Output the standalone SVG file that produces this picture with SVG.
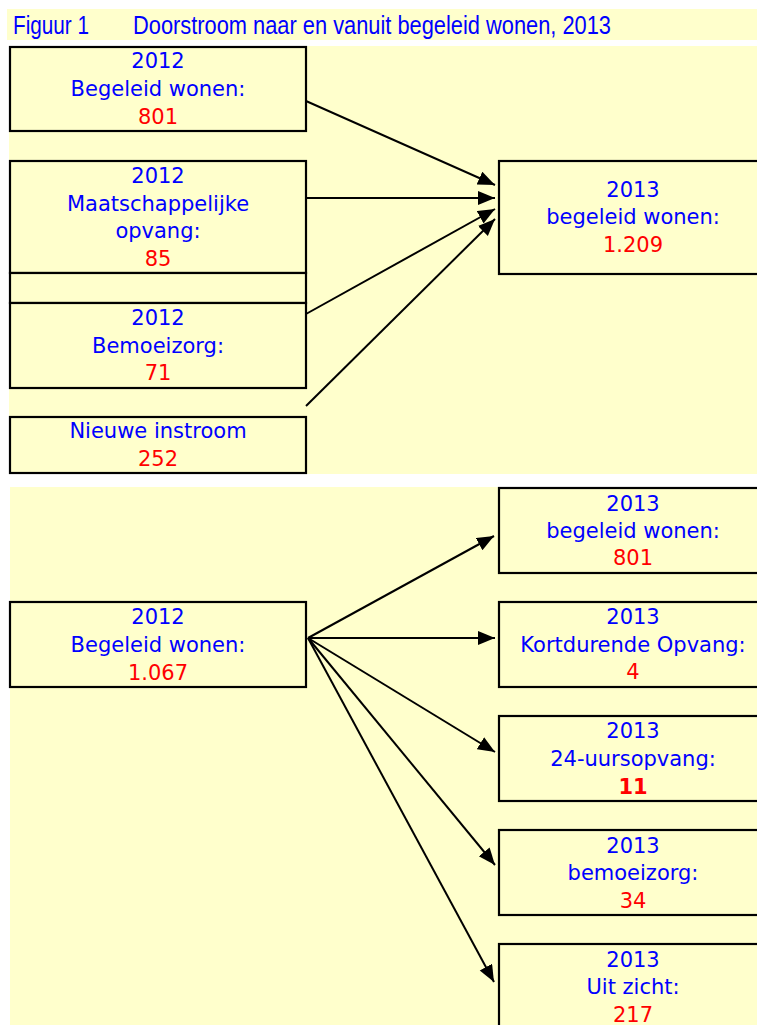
<svg xmlns="http://www.w3.org/2000/svg" width="757" height="1025" viewBox="0 0 757 1025">
<style>
.bg{fill:#FFFFCC}
.box{fill:#FFFFCC;stroke:#000;stroke-width:2.2}
.t{font-family:"DejaVu Sans",Verdana,sans-serif;font-size:21px;text-anchor:middle;fill:#0000FF}
.n{fill:#FF0000}
.b{font-weight:bold}
.title{font-family:"Liberation Sans",Arial,sans-serif;font-size:25px;fill:#0000FF}
.c{stroke:#000;stroke-width:2;fill:none;marker-end:url(#ah)}
</style>
<defs>
<marker id="ah" markerUnits="userSpaceOnUse" markerWidth="18" markerHeight="15" refX="17" refY="7" orient="auto">
<path d="M0,0 L17,7 L0,14 z" fill="#000"/>
</marker>
</defs>
<rect width="757" height="1025" fill="#fff"/>
<rect class="bg" x="7" y="9" width="750" height="31"/>
<rect class="bg" x="9" y="46" width="748" height="428"/>
<rect class="bg" x="10" y="487" width="747" height="538"/>
<g id="title">
<text class="title" x="13" y="34" textLength="76" lengthAdjust="spacingAndGlyphs">Figuur 1</text>
<text class="title" x="133" y="34" textLength="478" lengthAdjust="spacingAndGlyphs">Doorstroom naar en vanuit begeleid wonen, 2013</text>
</g>
<g id="connectors">
<line class="c" x1="306" y1="101" x2="495" y2="185"/>
<line class="c" x1="306" y1="198" x2="495" y2="198"/>
<line class="c" x1="306" y1="314" x2="495" y2="209"/>
<line class="c" x1="306" y1="406" x2="495" y2="219"/>
<line class="c" x1="308" y1="638" x2="494" y2="536"/>
<line class="c" x1="308" y1="638" x2="495" y2="638"/>
<line class="c" x1="308" y1="638" x2="495" y2="752"/>
<line class="c" x1="308" y1="638" x2="495" y2="865"/>
<line class="c" x1="308" y1="638" x2="494" y2="982"/>
</g>
<g id="src-bw2012">
<rect class="box" x="10" y="47" width="296" height="84"/>
<text class="t" x="158" y="68">2012</text>
<text class="t" x="158" y="96">Begeleid wonen:</text>
<text class="t n" x="158" y="124">801</text>
</g>
<g id="src-mo2012">
<rect class="box" x="10" y="161" width="296" height="112"/>
<text class="t" x="158" y="183">2012</text>
<text class="t" x="158" y="211">Maatschappelijke</text>
<text class="t" x="158" y="238">opvang:</text>
<text class="t n" x="158" y="266">85</text>
</g>
<g id="spacer">
<rect class="box" x="10" y="273" width="296" height="30"/>
</g>
<g id="src-bz2012">
<rect class="box" x="10" y="303" width="296" height="85"/>
<text class="t" x="158" y="325">2012</text>
<text class="t" x="158" y="353">Bemoeizorg:</text>
<text class="t n" x="158" y="380">71</text>
</g>
<g id="src-nieuw">
<rect class="box" x="10" y="417" width="296" height="56"/>
<text class="t" x="158" y="438">Nieuwe instroom</text>
<text class="t n" x="158" y="466">252</text>
</g>
<g id="dst-bw2013">
<rect class="box" x="499" y="161" width="268" height="113"/>
<text class="t" x="633" y="197">2013</text>
<text class="t" x="633" y="224">begeleid wonen:</text>
<text class="t n" x="633" y="252">1.209</text>
</g>
<g id="src-bw2012b">
<rect class="box" x="10" y="602" width="296" height="85"/>
<text class="t" x="158" y="624">2012</text>
<text class="t" x="158" y="652">Begeleid wonen:</text>
<text class="t n" x="158" y="680">1.067</text>
</g>
<g id="out-bw">
<rect class="box" x="499" y="488" width="268" height="85"/>
<text class="t" x="633" y="511">2013</text>
<text class="t" x="633" y="538">begeleid wonen:</text>
<text class="t n" x="633" y="565">801</text>
</g>
<g id="out-ko">
<rect class="box" x="499" y="602" width="268" height="85"/>
<text class="t" x="633" y="624">2013</text>
<text class="t" x="633" y="652">Kortdurende Opvang:</text>
<text class="t n" x="633" y="679">4</text>
</g>
<g id="out-24">
<rect class="box" x="499" y="716" width="268" height="85"/>
<text class="t" x="633" y="738">2013</text>
<text class="t" x="633" y="766">24-uursopvang:</text>
<text class="t n b" x="633" y="794">11</text>
</g>
<g id="out-bz">
<rect class="box" x="499" y="830" width="268" height="85"/>
<text class="t" x="633" y="853">2013</text>
<text class="t" x="633" y="880">bemoeizorg:</text>
<text class="t n" x="633" y="908">34</text>
</g>
<g id="out-uz">
<rect class="box" x="499" y="944" width="268" height="85"/>
<text class="t" x="633" y="967">2013</text>
<text class="t" x="633" y="994">Uit zicht:</text>
<text class="t n" x="633" y="1022">217</text>
</g>
</svg>
